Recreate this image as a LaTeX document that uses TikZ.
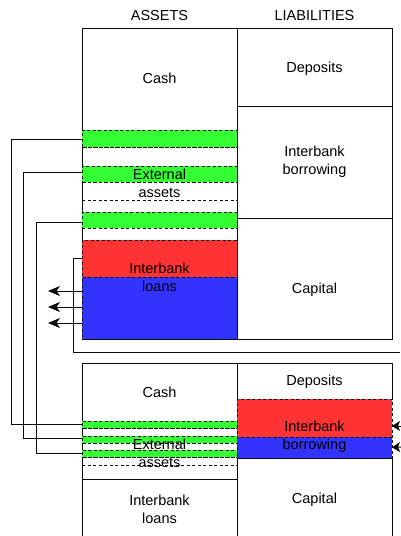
\documentclass[tikz,border=0pt]{standalone}
\usepackage{fontspec}
\setmainfont{Liberation Sans}
\usetikzlibrary{arrows.meta}

\definecolor{extgreen}{RGB}{51,255,51}
\definecolor{ibred}{RGB}{255,51,51}
\definecolor{ibblue}{RGB}{51,51,255}
\definecolor{inkline}{RGB}{10,10,10}

\begin{document}
\begin{tikzpicture}[x=1pt,y=-1pt,
  lbl/.style={font=\fontsize{14.5}{18}\selectfont, align=center, inner sep=0pt},
  cell/.style={draw=inkline, line width=1pt, rectangle, inner sep=0pt, outer sep=0pt, anchor=north west, minimum width=155pt},
  band/.style={cell, dash pattern=on 3pt off 2.5pt},
  gband/.style={band, fill=extgreen},
  wband/.style={band},
  rband/.style={band, fill=ibred},
  bband/.style={band, fill=ibblue},
  link/.style={draw=inkline, line width=1pt},
  outarrow/.style={link, -{Stealth[length=12pt, width=10pt, inset=3.5pt]}},
  inarrow/.style={link, -{Stealth[length=8pt, width=10pt, inset=2pt]}}]

\useasboundingbox (0,0) rectangle (400,536);

% column headings
\node[lbl] (hA) at (159.5,16) {ASSETS};
\node[lbl] (hL) at (314.5,16) {LIABILITIES};

% ---------- first balance sheet ----------
\node[cell, minimum height=311pt] (assets1) at (82,28) {};
\node[cell, minimum height=78pt]  (dep1) at (237,28) {};
\node[cell, minimum height=112pt] (ibb1) at (237,106) {};
\node[cell, minimum height=121pt] (cap1) at (237,218) {};

% external assets split into bands
\node[gband, minimum height=17pt] (g1) at (82,130) {};
\node[wband, minimum height=19pt] (w1) at (82,147) {};
\node[gband, minimum height=16pt] (g2) at (82,166) {};
\node[wband, minimum height=18pt] (w2) at (82,182) {};
\node[wband, minimum height=12pt] (w3) at (82,200) {};
\node[gband, minimum height=16pt] (g3) at (82,212) {};
\node[wband, minimum height=12pt] (w4) at (82,228) {};

% interbank loans
\node[rband, minimum height=37pt] (ibl1r) at (82,240) {};
\node[bband, minimum height=62pt] (ibl1b) at (82,277) {};

\node[lbl] (cash1t) at (159.5,78) {Cash};
\node[lbl] (ext1t) at (159.5,183) {External\\assets};
\node[lbl] (ibl1t) at (159.5,277) {Interbank\\loans};
\node[lbl] (dep1t) at (314.5,69) {Deposits};
\node[lbl] (ibb1t) at (314.5,161.5) {Interbank\\borrowing};
\node[lbl] (cap1t) at (314.5,290) {Capital};

% ---------- second balance sheet ----------
\node[cell, minimum height=58pt]  (cash2) at (82,363) {};
\node[cell, minimum height=58pt]  (ext2) at (82,421) {};
\node[cell, minimum height=80pt]  (ibl2) at (82,479) {};
\node[cell, minimum height=36pt]  (dep2) at (237,363) {};
\node[cell, minimum height=100pt] (cap2) at (237,458) {};

\node[gband, minimum height=7pt] (lg1) at (82,421) {};
\node[wband, minimum height=8pt] (lw1) at (82,428) {};
\node[gband, minimum height=7pt] (lg2) at (82,436) {};
\node[wband, minimum height=7pt] (lw2) at (82,443) {};
\node[gband, minimum height=7pt] (lg3) at (82,450) {};
\node[wband, minimum height=8pt] (lw3) at (82,457) {};

\node[rband, minimum height=38pt] (ibb2r) at (237,399) {};
\node[bband, minimum height=21pt] (ibb2b) at (237,437) {};

\node[lbl] (cash2t) at (159.5,392) {Cash};
\node[lbl] (ext2t) at (159.5,453.5) {External\\assets};
\node[lbl] (ibl2t) at (159.5,509) {Interbank\\loans};
\node[lbl] (dep2t) at (314.5,382) {Deposits};
\node[lbl] (ibb2t) at (314.5,437) {Interbank\\borrowing};
\node[lbl] (cap2t) at (314.5,500) {Capital};

% ---------- connectors ----------
% external asset bands carried over to the second sheet
\draw[link] ([yshift=-0.5pt]g1.west) -- (11.5,139) |- (lg1.west);
\draw[link] ([yshift=2pt]g2.west) -- (23.5,172) |- ([yshift=1pt]lg2.west);
\draw[link] ([yshift=-2.5pt]g3.west) -- (36,222.5) |- (lg3.west);

% interbank loans routed out to the right
\coordinate (loanout) at (400,352);
\draw[link] (ibl1r.west) -- (73,258.5) |- (loanout);

% outgoing loan flows
\coordinate (fl1) at (48,291);
\coordinate (fl2) at (48,307);
\coordinate (fl3) at (48,323);
\draw[outarrow] ([yshift=17pt]ibl1b.west) -- (fl1);
\draw[outarrow] ([yshift=1pt]ibl1b.west) -- (fl2);
\draw[outarrow] ([yshift=-15pt]ibl1b.west) -- (fl3);

% incoming borrowing flows
\coordinate (in1) at (402,426);
\coordinate (in2) at (402,447);
\draw[inarrow] (in1) -- ([yshift=-8pt]ibb2r.east);
\draw[inarrow] (in2) -- ([yshift=0pt]ibb2b.east);

\end{tikzpicture}
\end{document}
